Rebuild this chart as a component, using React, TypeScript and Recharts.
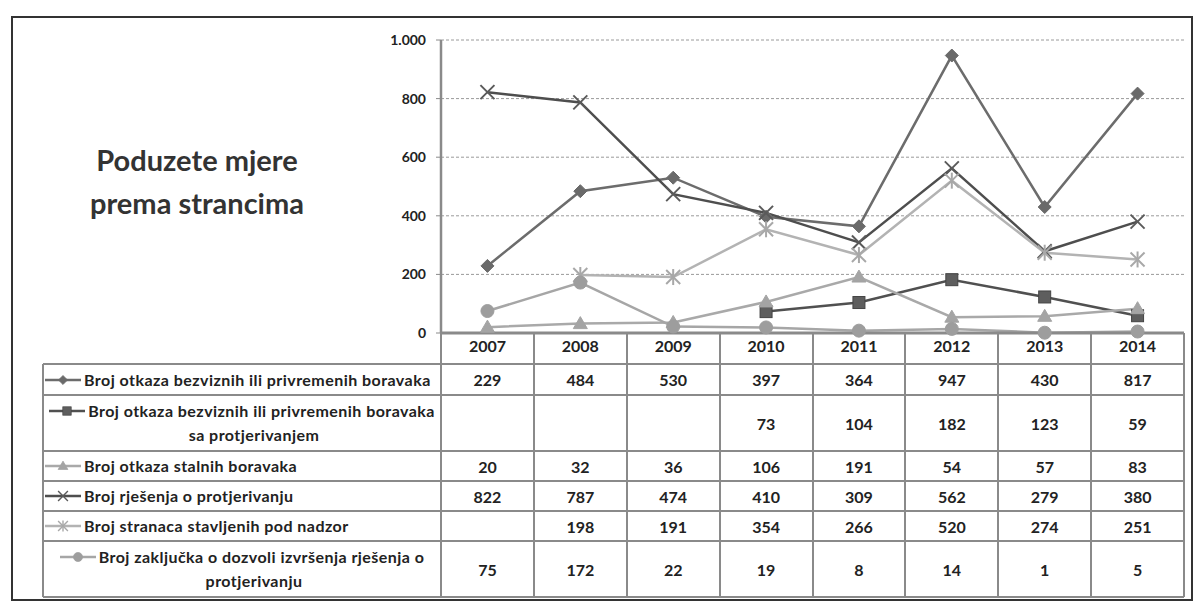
import React from 'react';
import { LineChart, Line, XAxis, YAxis, CartesianGrid } from 'recharts';

const years = ['2007', '2008', '2009', '2010', '2011', '2012', '2013', '2014'];
const otkazaBezviznih = [229, 484, 530, 397, 364, 947, 430, 817];
const otkazaSaProtjerivanjem = [null, null, null, 73, 104, 182, 123, 59];
const otkazaStalnih = [20, 32, 36, 106, 191, 54, 57, 83];
const rjesenjaProtjerivanje = [822, 787, 474, 410, 309, 562, 279, 380];
const strancaNadzor = [null, 198, 191, 354, 266, 520, 274, 251];
const zakljuckaDozvoli = [75, 172, 22, 19, 8, 14, 1, 5];
const yTicks = [0, 200, 400, 600, 800, 1000];

const seriesNames = [
  'Broj otkaza bezviznih ili privremenih boravaka',
  'Broj otkaza bezviznih ili privremenih boravaka\nsa protjerivanjem',
  'Broj otkaza stalnih boravaka',
  'Broj rješenja o protjerivanju',
  'Broj stranaca stavljenih pod nadzor',
  'Broj zaključka o dozvoli izvršenja rješenja o\nprotjerivanju',
];
const seriesValues = [
  otkazaBezviznih,
  otkazaSaProtjerivanjem,
  otkazaStalnih,
  rjesenjaProtjerivanje,
  strancaNadzor,
  zakljuckaDozvoli,
];
const seriesKeys = ['s1', 's2', 's3', 's4', 's5', 's6'];
const seriesShapes = ['diamond', 'square', 'triangle', 'x', 'star', 'circle'];
const seriesColors = ['#6c6c6c', '#505050', '#a9a9a9', '#4e4e4e', '#b3b3b3', '#a6a6a6'];
const markerColors = ['#6a6a6a', '#5e5e5e', '#a4a4a4', '#5a5a5a', '#a8a8a8', '#9d9d9d'];

const data = years.map((y, i) => {
  const row: any = { year: y };
  seriesKeys.forEach((k, j) => {
    row[k] = seriesValues[j][i];
  });
  return row;
});

// layout
const W = 1195;
const H = 607;
const PLOT_LEFT = 441;
const PLOT_RIGHT = 1184;
const PLOT_TOP = 40;
const PLOT_BOTTOM = 333;
const COL_W = (PLOT_RIGHT - PLOT_LEFT) / years.length;
const TABLE_LEFT = 43;
const ROW_LINES = [364, 395, 451, 481, 511, 541, 597];
const FONT = 'Lato, "Open Sans", sans-serif';

function Marker({ shape, color, cx, cy }: { shape: string; color: string; cx: number; cy: number }) {
  const s = 6.5;
  switch (shape) {
    case 'diamond':
      return (
        <polygon
          points={`${cx},${cy - s} ${cx + s},${cy} ${cx},${cy + s} ${cx - s},${cy}`}
          fill={color}
          stroke={color}
          strokeWidth={1}
        />
      );
    case 'square':
      return <rect x={cx - 6} y={cy - 6} width={12} height={12} fill={color} stroke="#444" strokeWidth={1} />;
    case 'triangle':
      return (
        <polygon
          points={`${cx},${cy - 7} ${cx + 7},${cy + 5} ${cx - 7},${cy + 5}`}
          fill={color}
          stroke={color}
          strokeWidth={1}
        />
      );
    case 'x':
      return (
        <g stroke={color} strokeWidth={2}>
          <line x1={cx - 7} y1={cy - 7} x2={cx + 7} y2={cy + 7} />
          <line x1={cx - 7} y1={cy + 7} x2={cx + 7} y2={cy - 7} />
        </g>
      );
    case 'star':
      return (
        <g stroke={color} strokeWidth={2}>
          <line x1={cx - 7} y1={cy - 7} x2={cx + 7} y2={cy + 7} />
          <line x1={cx - 7} y1={cy + 7} x2={cx + 7} y2={cy - 7} />
          <line x1={cx} y1={cy - 8} x2={cx} y2={cy + 8} />
        </g>
      );
    default:
      return <circle cx={cx} cy={cy} r={6.5} fill={color} stroke={color} />;
  }
}

const makeDot = (shape: string, color: string) => (props: any) => {
  const { cx, cy, index, value } = props;
  if (cx == null || cy == null || value == null || Number.isNaN(cy)) return <g key={`e${index}`} />;
  return (
    <g key={`m${index}`}>
      <Marker shape={shape} color={color} cx={cx} cy={cy} />
    </g>
  );
};

const fmt = (v: number) => (v >= 1000 ? `${Math.floor(v / 1000)}.${String(v % 1000).padStart(3, '0')}` : String(v));

function LegendKey({ i }: { i: number }) {
  return (
    <svg width={36} height={14} style={{ verticalAlign: 'middle', marginRight: 3, marginTop: -3 }}>
      <line x1={0} y1={7} x2={36} y2={7} stroke={seriesColors[i]} strokeWidth={2.5} />
      <g transform="translate(18,7) scale(0.7) translate(-18,-7)">
        <Marker shape={seriesShapes[i]} color={markerColors[i]} cx={18} cy={7} />
      </g>
    </svg>
  );
}

function DataTable() {
  const lineColor = '#8a8a8a';
  const els: React.ReactNode[] = [];
  ROW_LINES.forEach((y, i) => {
    els.push(
      <div
        key={`h${i}`}
        style={{ position: 'absolute', left: TABLE_LEFT, top: y - 1, width: PLOT_RIGHT - TABLE_LEFT, height: 2, background: lineColor }}
      />
    );
  });
  for (let k = 1; k <= years.length; k++) {
    const x = PLOT_LEFT + k * COL_W;
    els.push(
      <div
        key={`v${k}`}
        style={{ position: 'absolute', left: x - 1, top: PLOT_BOTTOM, width: 2, height: ROW_LINES[ROW_LINES.length - 1] - PLOT_BOTTOM, background: lineColor }}
      />
    );
  }
  els.push(
    <div key="vl0" style={{ position: 'absolute', left: TABLE_LEFT - 1, top: ROW_LINES[0], width: 2, height: ROW_LINES[6] - ROW_LINES[0], background: lineColor }} />
  );
  els.push(
    <div key="vl1" style={{ position: 'absolute', left: PLOT_LEFT - 1, top: PLOT_BOTTOM, width: 2, height: ROW_LINES[6] - PLOT_BOTTOM, background: lineColor }} />
  );
  seriesNames.forEach((name, r) => {
    const top = ROW_LINES[r];
    const h = ROW_LINES[r + 1] - top;
    const lines = name.split('\n');
    els.push(
      <div
        key={`lab${r}`}
        style={{
          position: 'absolute',
          left: TABLE_LEFT + 2,
          top,
          width: PLOT_LEFT - TABLE_LEFT - 4,
          height: h,
          display: 'flex',
          flexDirection: 'column',
          justifyContent: 'center',
          fontFamily: FONT,
          fontWeight: 700,
          fontSize: 16,
          letterSpacing: 0.45,
          color: '#222',
          lineHeight: '24px',
          whiteSpace: 'nowrap',
        }}
      >
        <div style={{ textAlign: lines.length > 1 ? 'center' : 'left' }}>
          <LegendKey i={r} />
          {lines[0]}
        </div>
        {lines.length > 1 && <div style={{ textAlign: 'center', paddingLeft: 24 }}>{lines[1]}</div>}
      </div>
    );
    seriesValues[r].forEach((v, c) => {
      els.push(
        <div
          key={`c${r}-${c}`}
          style={{
            position: 'absolute',
            left: PLOT_LEFT + c * COL_W,
            top,
            width: COL_W,
            height: h,
            display: 'flex',
            alignItems: 'center',
            justifyContent: 'center',
            fontFamily: FONT,
            fontWeight: 700,
            fontSize: 16,
            color: '#222',
          }}
        >
          {v == null ? '' : String(v)}
        </div>
      );
    });
  });
  return <>{els}</>;
}

export default function App() {
  return (
    <div style={{ position: 'absolute', left: 0, top: 0, width: W, height: H, background: '#fff', overflow: 'hidden' }}>
      <div
        style={{
          position: 'absolute',
          left: 11,
          top: 16,
          width: 1182,
          height: 585,
          border: '2px solid #333',
          boxSizing: 'border-box',
        }}
      />
      <div
        style={{
          position: 'absolute',
          left: 37,
          top: 138,
          width: 320,
          textAlign: 'center',
          fontFamily: FONT,
          fontWeight: 700,
          fontSize: 29,
          lineHeight: '43px',
          color: '#333',
        }}
      >
        Poduzete mjere
        <br />
        prema strancima
      </div>
      <div style={{ position: 'absolute', left: 0, top: 0 }}>
        <LineChart
          width={W}
          height={H}
          data={data}
          margin={{ top: PLOT_TOP, right: W - PLOT_RIGHT, left: PLOT_LEFT - 60, bottom: H - PLOT_BOTTOM - 31 }}
        >
          <CartesianGrid vertical={false} stroke="#9a9a9a" strokeDasharray="3 2" />
          <XAxis
            dataKey="year"
            height={31}
            padding={{ left: COL_W / 2, right: COL_W / 2 }}
            axisLine={{ stroke: '#8a8a8a', strokeWidth: 3 }}
            tickLine={false}
            tickMargin={2}
            interval={0}
            tick={{ fontFamily: FONT, fontWeight: 700, fontSize: 16, fill: '#222' }}
          />
          <YAxis
            width={60}
            domain={[0, 1000]}
            ticks={yTicks}
            interval={0}
            tickFormatter={fmt}
            axisLine={{ stroke: '#8a8a8a', strokeWidth: 2.5 }}
            tickLine={{ stroke: '#8a8a8a' }}
            tickSize={5}
            tickMargin={10}
            tick={{ fontFamily: FONT, fontWeight: 700, fontSize: 14, fill: '#222' }}
          />
          {seriesKeys.map((k, i) => (
            <Line
              key={k}
              type="linear"
              dataKey={k}
              name={seriesNames[i]}
              stroke={seriesColors[i]}
              strokeWidth={2.5}
              dot={makeDot(seriesShapes[i], markerColors[i])}
              activeDot={false}
              isAnimationActive={false}
            />
          ))}
        </LineChart>
      </div>
      <DataTable />
    </div>
  );
}
